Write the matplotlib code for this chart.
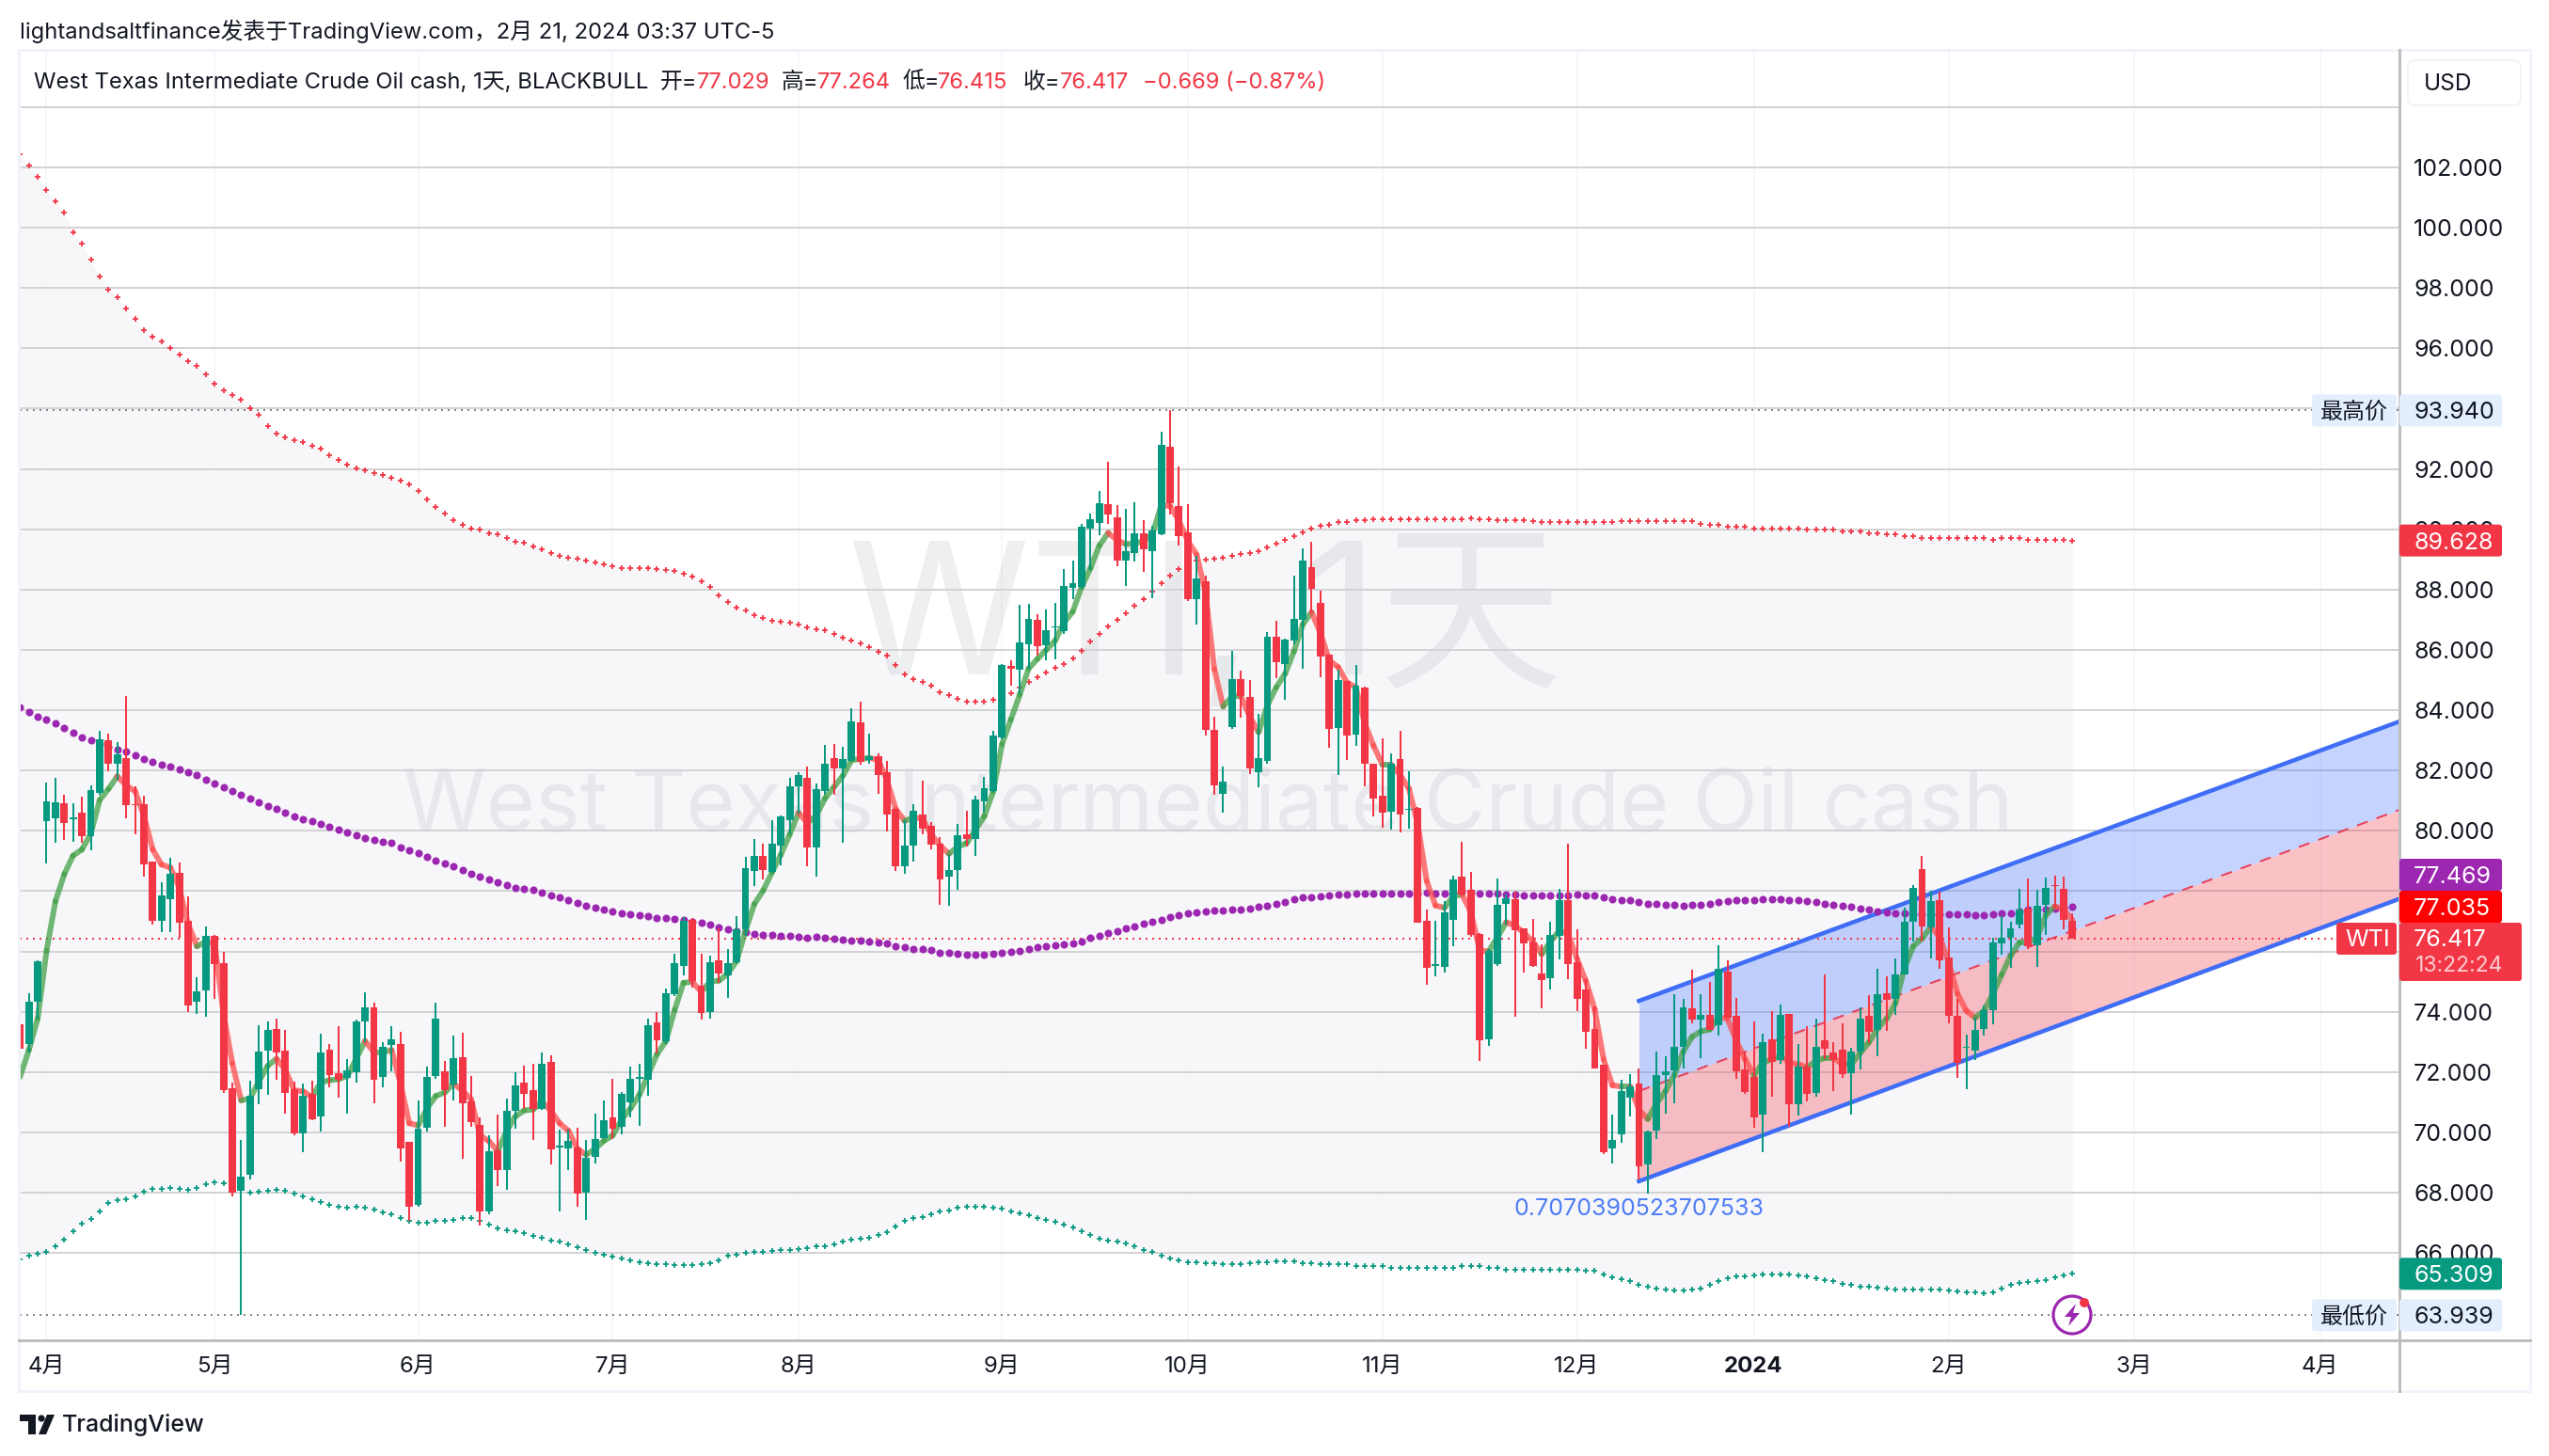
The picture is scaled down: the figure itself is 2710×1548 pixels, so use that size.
import numpy as np
import matplotlib
matplotlib.use('Agg')
import matplotlib.pyplot as plt
from matplotlib.patches import Rectangle, FancyBboxPatch, Circle, Polygon

plt.rcParams['font.family'] = ['Inter', 'Noto Sans CJK SC', 'DejaVu Sans']
plt.rcParams['axes.unicode_minus'] = False

# daily candles
opens = [73.60,72.93,74.33,80.32,80.42,80.91,80.39,80.60,79.82,81.27,
83.00,82.23,82.41,80.87,80.87,78.97,77.02,77.73,78.60,77.02,
74.33,74.71,76.51,75.62,71.47,68.05,68.59,71.42,72.71,73.42,
72.71,71.42,69.96,71.27,70.53,72.73,71.96,71.81,71.99,73.68,
74.14,71.84,72.90,72.93,69.68,67.59,70.15,71.87,72.02,71.59,
72.50,71.02,70.24,67.39,69.42,68.74,70.71,71.65,71.39,70.79,
72.33,69.50,69.48,69.50,68.00,69.20,69.81,70.50,70.17,70.99,
71.78,71.75,73.66,73.02,74.57,75.51,77.05,74.87,73.99,75.71,
75.20,75.63,76.72,78.66,79.17,78.63,79.51,80.35,81.47,81.75,
79.44,81.33,82.41,82.06,82.33,83.60,82.36,82.47,81.93,80.72,
78.84,79.51,80.53,80.17,79.57,78.48,78.70,79.88,79.73,80.97,
81.33,83.11,85.48,85.35,86.18,87.00,86.15,86.74,86.63,88.07,
88.10,90.01,90.22,90.83,90.40,88.97,89.22,89.88,89.28,89.85,
92.74,90.77,89.91,87.68,88.28,83.36,81.24,83.45,85.04,84.45,
81.95,82.33,86.42,85.53,86.31,87.00,88.74,87.56,85.85,83.42,
84.97,83.19,84.74,82.22,81.16,80.64,82.39,80.70,80.77,77.01,
75.53,75.50,77.04,78.49,78.04,76.58,73.09,75.58,77.59,77.73,
76.76,76.30,75.27,75.10,76.53,77.69,75.65,74.74,73.44,72.25,
69.48,69.92,71.16,71.62,68.94,70.07,71.90,72.07,72.84,74.13,
73.75,73.89,73.56,75.34,73.88,72.09,71.84,70.59,73.09,72.40,
73.92,70.94,72.19,71.31,73.06,72.66,72.75,71.97,72.69,73.88,
73.40,74.62,74.44,75.25,77.00,78.72,76.81,77.69,75.81,73.88,
72.79,72.72,73.44,74.06,76.28,76.44,76.88,77.43,76.19,77.56,
78.21,78.09,77.03]
highs = [74.35,74.60,75.72,81.59,81.75,81.20,80.91,81.14,81.51,83.33,
83.23,82.93,84.48,81.47,81.17,78.97,78.29,79.11,78.96,77.84,
75.15,76.82,76.54,75.99,71.66,69.75,71.72,73.56,73.68,73.76,
73.41,71.69,71.62,71.72,73.26,72.93,73.53,72.44,73.73,74.66,
74.29,73.00,73.51,73.33,69.68,71.05,72.17,74.30,72.36,73.21,
73.30,71.87,70.50,69.90,70.59,71.12,71.99,72.21,72.29,72.66,
72.57,70.09,70.08,70.15,69.75,70.62,71.05,71.76,71.35,72.17,
72.29,73.78,74.00,74.78,75.91,77.14,77.12,75.93,75.85,76.78,
76.08,77.18,79.14,79.74,79.56,80.36,80.51,81.75,81.94,82.12,
81.56,82.84,82.88,82.80,84.06,84.27,83.23,82.56,82.32,80.72,
80.36,80.88,81.65,80.29,79.80,79.21,80.24,80.66,81.15,81.80,
83.32,85.53,85.66,87.50,87.53,87.17,87.35,87.57,88.69,88.97,
90.18,90.53,91.28,92.25,90.79,90.68,90.91,90.31,90.13,93.24,
93.94,92.07,90.83,89.12,88.46,83.79,82.13,85.97,85.31,85.01,
83.89,86.58,86.97,86.37,88.46,89.37,89.59,87.97,85.85,85.33,
84.97,85.49,84.79,82.22,83.07,82.56,83.33,81.98,80.80,77.40,
77.03,77.67,78.52,79.64,78.64,76.62,76.07,78.42,77.89,77.97,
76.76,77.07,76.25,77.00,78.08,79.58,76.74,75.08,74.19,72.25,
70.60,71.74,71.93,72.12,70.07,72.68,72.52,74.58,74.43,75.38,
74.58,75.00,76.19,75.69,74.46,72.67,73.69,73.27,74.02,74.25,
73.94,72.94,73.53,73.77,75.25,73.00,73.63,72.81,74.15,74.56,
75.41,75.19,75.78,77.44,78.19,79.16,78.02,77.97,76.81,74.44,
73.25,73.81,74.22,76.46,77.16,77.00,78.09,78.41,78.03,78.44,
78.50,78.47,77.264]
lows = [72.78,72.66,73.78,78.93,79.60,79.71,79.63,79.60,79.36,81.21,
81.99,81.69,80.42,79.90,78.48,76.88,76.65,76.65,76.44,73.99,
73.93,73.82,74.42,71.32,67.87,63.94,68.44,70.93,71.24,71.73,
70.62,69.90,69.35,70.41,70.02,71.51,71.15,70.62,71.66,73.00,
70.97,71.51,72.02,69.03,67.06,67.54,70.02,71.76,70.20,71.05,
69.12,70.20,66.91,67.29,68.21,68.11,70.12,70.79,69.75,70.76,
68.93,67.39,68.74,67.54,67.11,68.97,69.78,69.78,69.94,70.50,
70.23,71.20,72.62,72.93,74.51,75.21,74.81,73.74,73.77,74.96,
74.47,75.60,76.53,78.17,78.39,78.61,78.87,79.91,80.56,78.84,
78.47,81.20,81.20,79.62,82.32,82.18,82.24,81.23,79.99,78.66,
78.59,78.99,79.88,79.39,77.54,77.50,78.06,79.47,79.17,80.60,
81.30,83.02,84.81,84.54,85.38,85.82,85.65,85.68,86.53,87.67,
88.04,88.64,89.80,90.19,88.77,88.13,88.94,88.59,87.71,89.79,
90.50,89.46,87.62,86.85,83.15,81.18,80.61,83.39,83.76,81.89,
81.43,82.22,85.06,84.36,86.18,85.36,87.25,85.10,82.74,81.85,
82.34,82.82,81.47,80.47,80.09,80.04,79.94,80.06,76.95,74.91,
75.16,75.31,76.18,77.86,76.47,72.37,72.88,75.53,76.88,73.82,
75.31,75.50,74.13,74.73,75.75,75.07,74.03,72.76,72.12,69.29,
68.98,69.66,70.54,68.44,67.96,69.79,70.62,70.98,72.12,73.63,
72.47,73.41,73.20,73.81,71.79,71.29,70.16,69.34,71.17,72.26,
70.20,70.57,71.03,71.19,72.44,71.38,71.81,70.60,72.09,72.97,
72.53,73.37,73.90,75.25,76.34,76.34,75.78,75.44,73.63,71.81,
71.44,72.41,73.22,73.59,75.88,75.47,76.78,76.09,75.50,76.56,
77.44,76.75,76.415]
closes = [72.78,74.33,75.68,80.97,80.94,80.26,80.45,79.82,81.35,83.03,
82.21,82.54,80.85,80.84,78.88,77.02,77.85,78.57,76.96,74.21,
74.68,76.51,75.59,71.39,67.99,68.53,71.21,72.68,73.39,72.65,
71.30,69.96,71.21,70.44,72.65,71.90,71.75,72.05,73.68,74.14,
71.73,72.84,73.08,69.47,67.54,70.12,71.84,73.76,71.39,72.45,
70.96,70.35,67.39,69.36,68.75,70.71,71.57,71.29,70.79,72.27,
69.45,69.56,69.71,67.97,69.15,69.78,70.39,70.11,71.27,71.76,
71.84,73.56,73.06,74.62,75.62,77.02,75.03,73.96,75.65,75.27,
75.62,76.72,78.77,79.17,78.69,79.57,80.47,81.48,81.85,79.44,
81.38,82.23,82.06,82.38,83.63,82.29,82.48,81.85,80.53,78.84,
79.51,80.66,80.08,79.53,78.39,78.70,79.85,79.73,81.03,81.41,
83.15,85.50,85.38,86.24,87.03,86.11,86.66,86.78,88.12,88.22,
90.09,90.33,90.88,90.49,88.97,89.28,89.88,89.34,89.95,92.80,
90.88,89.77,87.67,88.37,83.36,81.50,81.64,85.04,84.46,82.07,
82.42,86.45,85.58,86.34,87.03,88.97,88.03,85.79,83.39,85.01,
83.16,84.80,82.22,81.06,80.61,82.22,80.55,80.74,76.95,75.46,
75.58,77.30,78.39,77.89,76.55,73.04,76.03,77.55,77.77,76.70,
76.28,75.53,75.04,76.55,77.69,75.57,74.42,73.35,72.12,69.34,
69.75,71.38,71.54,68.88,70.03,71.91,72.02,72.84,74.16,73.75,
73.90,73.41,75.41,73.81,72.04,71.34,70.50,73.00,72.34,73.90,
70.94,72.19,71.28,72.84,72.78,72.39,71.94,72.69,73.78,73.33,
74.59,74.41,75.25,77.00,78.12,76.84,77.66,75.69,73.88,72.31,
72.83,73.41,74.06,76.31,76.46,76.78,77.38,76.16,77.50,78.12,
78.17,77.06,76.417]

# envelope, basis and fast average, one reading per bar
upper_band = [102.43,102.05,101.68,101.24,100.87,100.49,99.84,99.47,98.93,98.39,
97.96,97.69,97.31,96.99,96.61,96.39,96.23,96.02,95.80,95.58,
95.42,95.15,94.83,94.61,94.45,94.29,94.02,93.81,93.43,93.16,
93.05,92.94,92.89,92.78,92.67,92.46,92.30,92.13,92.03,91.97,
91.87,91.81,91.70,91.60,91.49,91.27,91.00,90.73,90.52,90.30,
90.14,90.03,89.98,89.87,89.82,89.71,89.60,89.55,89.44,89.33,
89.22,89.12,89.06,89.01,88.95,88.90,88.85,88.79,88.72,88.72,
88.72,88.71,88.68,88.65,88.62,88.54,88.44,88.27,88.09,87.81,
87.59,87.41,87.32,87.14,87.05,86.96,86.94,86.91,86.84,86.75,
86.68,86.66,86.53,86.41,86.32,86.21,86.09,85.93,85.81,85.50,
85.18,85.02,84.93,84.81,84.59,84.50,84.38,84.27,84.27,84.29,
84.36,84.48,84.57,84.74,84.93,85.09,85.25,85.40,85.53,85.73,
85.98,86.27,86.53,86.79,87.01,87.22,87.47,87.67,87.92,88.22,
88.45,88.67,88.86,88.97,89.00,89.03,89.07,89.12,89.18,89.22,
89.28,89.40,89.52,89.64,89.76,89.91,90.03,90.12,90.16,90.24,
90.25,90.31,90.31,90.33,90.33,90.33,90.33,90.34,90.33,90.33,
90.33,90.33,90.33,90.33,90.36,90.33,90.33,90.31,90.31,90.30,
90.30,90.28,90.25,90.25,90.25,90.25,90.25,90.25,90.24,90.25,
90.25,90.27,90.27,90.27,90.27,90.27,90.27,90.27,90.27,90.27,
90.19,90.14,90.14,90.09,90.09,90.09,90.03,90.03,90.03,90.03,
90.03,90.03,89.98,89.98,89.98,89.98,89.93,89.93,89.93,89.87,
89.87,89.82,89.82,89.76,89.76,89.71,89.71,89.71,89.71,89.71,
89.71,89.71,89.71,89.66,89.71,89.71,89.71,89.66,89.66,89.66,
89.66,89.66,89.63]
basis = [84.11,83.94,83.79,83.69,83.57,83.42,83.26,83.10,83.00,82.88,
82.79,82.69,82.62,82.51,82.38,82.29,82.20,82.14,82.05,81.94,
81.84,81.70,81.57,81.44,81.32,81.20,81.06,80.94,80.81,80.72,
80.60,80.48,80.39,80.32,80.23,80.12,80.03,79.94,79.84,79.76,
79.70,79.65,79.59,79.44,79.35,79.26,79.14,79.00,78.91,78.82,
78.70,78.59,78.48,78.39,78.30,78.20,78.12,78.08,78.03,77.96,
77.87,77.79,77.70,77.60,77.53,77.44,77.38,77.32,77.27,77.24,
77.20,77.17,77.12,77.11,77.08,77.05,76.99,76.96,76.88,76.81,
76.72,76.68,76.63,76.57,76.56,76.56,76.53,76.53,76.48,76.45,
76.47,76.45,76.42,76.38,76.35,76.36,76.32,76.30,76.27,76.17,
76.14,76.09,76.09,76.05,75.97,75.94,75.91,75.88,75.88,75.90,
75.93,75.96,75.99,76.02,76.08,76.14,76.17,76.21,76.23,76.26,
76.32,76.44,76.53,76.62,76.68,76.77,76.82,76.91,76.97,77.05,
77.14,77.21,77.27,77.30,77.33,77.35,77.36,77.38,77.39,77.42,
77.47,77.51,77.59,77.65,77.74,77.79,77.80,77.83,77.86,77.89,
77.89,77.92,77.92,77.92,77.92,77.92,77.92,77.92,77.92,77.94,
77.91,77.91,77.94,77.97,77.94,77.92,77.92,77.91,77.89,77.89,
77.86,77.86,77.85,77.85,77.86,77.86,77.89,77.85,77.85,77.80,
77.74,77.71,77.69,77.63,77.59,77.57,77.56,77.54,77.53,77.54,
77.56,77.59,77.63,77.66,77.69,77.69,77.70,77.72,77.72,77.72,
77.69,77.69,77.66,77.63,77.59,77.56,77.50,77.47,77.43,77.38,
77.34,77.31,77.28,77.25,77.23,77.22,77.22,77.22,77.22,77.22,
77.22,77.19,77.19,77.22,77.25,77.28,77.34,77.38,77.40,77.40,
77.42,77.44,77.469]
lower_band = [65.78,65.90,65.97,66.05,66.23,66.44,66.72,66.96,67.12,67.38,
67.65,67.75,67.78,67.88,68.03,68.12,68.14,68.15,68.12,68.09,
68.17,68.27,68.35,68.32,68.23,68.11,68.00,68.03,68.05,68.11,
68.06,67.96,67.88,67.78,67.68,67.60,67.54,67.50,67.53,67.50,
67.44,67.35,67.27,67.17,67.05,67.00,67.00,67.06,67.06,67.09,
67.17,67.15,67.06,66.94,66.81,66.76,66.72,66.66,66.56,66.50,
66.42,66.38,66.30,66.20,66.09,66.02,65.93,65.87,65.81,65.76,
65.69,65.67,65.62,65.62,65.60,65.60,65.60,65.62,65.66,65.77,
65.90,65.94,65.99,66.03,66.05,66.08,66.09,66.09,66.14,66.17,
66.21,66.23,66.30,66.38,66.45,66.48,66.51,66.59,66.69,66.88,
67.06,67.17,67.20,67.27,67.39,67.41,67.50,67.54,67.54,67.54,
67.50,67.48,67.38,67.33,67.24,67.17,67.11,67.03,66.93,66.85,
66.71,66.60,66.48,66.41,66.38,66.32,66.23,66.11,66.03,65.91,
65.82,65.75,65.70,65.68,65.66,65.65,65.63,65.62,65.62,65.65,
65.70,65.70,65.72,65.72,65.72,65.67,65.67,65.62,65.62,65.62,
65.62,65.56,65.56,65.56,65.56,65.51,65.51,65.51,65.51,65.51,
65.51,65.51,65.51,65.56,65.56,65.56,65.51,65.51,65.45,65.45,
65.45,65.45,65.45,65.45,65.45,65.45,65.45,65.42,65.40,65.29,
65.20,65.13,65.07,64.94,64.88,64.82,64.78,64.75,64.75,64.80,
64.82,64.94,65.07,65.15,65.22,65.22,65.25,65.30,65.30,65.30,
65.29,65.25,65.22,65.17,65.09,65.07,64.99,64.94,64.89,64.88,
64.84,64.81,64.79,64.79,64.79,64.79,64.79,64.79,64.76,64.73,
64.70,64.68,64.67,64.71,64.81,64.94,65.00,65.03,65.07,65.10,
65.19,65.27,65.309]
fast_ma = [71.84,72.73,73.78,76.02,77.66,78.56,79.18,79.38,79.90,81.02,
81.39,81.81,81.50,81.32,80.50,79.38,78.88,78.78,78.11,76.91,
76.17,76.32,76.27,73.93,72.29,71.06,71.12,71.69,72.21,72.44,
72.06,71.39,71.36,71.17,71.66,71.73,71.76,71.87,72.44,73.03,
72.66,72.66,72.73,71.62,70.30,70.23,70.79,71.21,71.32,71.62,
71.39,71.09,69.90,69.71,69.38,70.05,70.53,70.73,70.76,71.02,
70.72,70.30,70.05,69.45,69.26,69.45,69.72,69.90,70.42,70.79,
71.24,71.91,72.59,73.02,74.06,74.96,74.99,74.66,74.99,75.03,
75.26,75.68,76.68,77.57,78.02,78.62,79.21,79.88,80.60,80.26,
80.51,81.08,81.45,81.82,82.35,82.38,82.42,82.35,81.68,80.71,
80.33,80.44,80.41,79.88,79.51,79.24,79.47,79.59,80.03,80.48,
81.30,82.87,83.69,84.51,85.38,85.70,86.00,86.30,86.90,87.27,
88.09,88.71,89.46,89.88,89.64,89.51,89.53,89.61,89.83,90.80,
90.77,90.28,89.61,89.16,87.89,85.36,84.12,84.46,84.46,83.79,
83.27,84.16,84.76,85.21,85.95,86.85,87.25,86.55,85.65,85.43,
84.91,84.76,83.56,82.82,82.19,82.19,81.85,81.40,80.21,78.34,
77.52,77.45,77.82,77.89,77.30,76.03,76.00,76.47,76.97,76.85,
76.62,76.33,75.91,76.33,76.69,76.58,75.75,75.02,74.08,72.42,
71.56,71.52,71.52,70.75,70.44,70.96,71.37,71.90,72.68,73.17,
73.35,73.41,73.82,73.77,73.04,72.42,71.90,72.31,72.42,72.52,
72.31,72.26,72.16,72.36,72.47,72.47,72.26,72.26,72.63,72.99,
73.46,73.77,74.29,75.44,76.17,76.43,76.81,76.48,75.65,74.60,
74.03,73.80,74.03,74.60,75.23,75.85,76.30,76.30,76.46,77.21,
77.50,77.40,77.035]

# regression channel
channel_x = [183, 269]
channel_upper = [74.36, 83.63]
channel_mid = [71.37, 80.70]
channel_lower = [68.38, 77.75]
channel_label = '0.7070390523707533'

price_ticks = [66,68,70,72,74,76,78,80,82,84,86,88,90,92,96,98,100,102,104]
month_pos = [3,22,45,67,88,111,132,154,176,196,218,239,260]
month_labels = ['4月','5月','6月','7月','8月','9月','10月','11月','12月','2024','2月','3月','4月']
high_price = 93.940
low_price = 63.939
last_close = 76.417

for s in (opens, highs, lows, closes, upper_band, basis, lower_band, fast_ma):
    assert len(s) == 233, len(s)

RED = '#f23645'
GREEN = '#089981'
PURPLE = '#9c27b0'
INK = '#131722'
W, H = 2710, 1548

def fs(px):
    return px * 0.72

def py(price):
    return 178 + (102 - price) * 32.06

fig = plt.figure(figsize=(W / 100, H / 100), dpi=100, facecolor='white')
ax = fig.add_axes([21 / W, 1 - 1425 / H, (2551 - 21) / W, (1425 - 53) / H])
ax.set_xlim(-0.03, 268.96)
ax.set_ylim(102 - (1425 - 178) / 32.06, 102 + (178 - 53) / 32.06)
for s in ax.spines.values():
    s.set_visible(False)
ax.set_xticks([])
ax.set_yticks([])

x = np.arange(len(closes))
ax.fill_between(x, lower_band, upper_band, color='#f7f7fa', lw=0, zorder=1)

for m in month_pos:
    ax.axvline(m, color='#f5f5f7', lw=fs(1.5), zorder=1.2)
for p in price_ticks + [94]:
    ax.axhline(p, color='#d3d3d6', lw=fs(2), zorder=1.6)

# watermarks
ax.text(134, 86.8, 'WTI, 1天', ha='center', va='center', fontsize=fs(196), color='#2a2e39',
        alpha=0.075, zorder=1.4)
ax.text(134.3, 80.75, 'West Texas Intermediate Crude Oil cash', ha='center', va='center',
        fontsize=fs(90), color='#2a2e39', alpha=0.075, zorder=1.4)

# channel
ax.fill_between(channel_x, channel_mid, channel_upper, color='#2962ff', alpha=0.27, lw=0, zorder=2)
ax.fill_between(channel_x, channel_lower, channel_mid, color='#f23645', alpha=0.30, lw=0, zorder=2)
ax.plot(channel_x, channel_upper, color='#3f6df5', lw=fs(4.5), zorder=3)
ax.plot(channel_x, channel_lower, color='#3f6df5', lw=fs(4.5), zorder=3)
ax.plot(channel_x, channel_mid, color='#ea3f58', lw=fs(2), ls=(0, (6, 5)), zorder=3)
ax.text(183, 67.44, channel_label, ha='center', va='center', fontsize=fs(25), color='#4d7df5', zorder=6)

# level lines
ax.axhline(high_price, color='#85858a', lw=fs(2), ls=(0, (1, 2.5)), zorder=2.5)
ax.axhline(low_price, color='#85858a', lw=fs(2), ls=(0, (1, 2.5)), zorder=2.5)
ax.plot([0, 263], [last_close, last_close], color=RED, lw=fs(2), ls=(0, (1, 2.5)), zorder=2.5)

# bands
ax.scatter(x, basis, s=34, color=PURPLE, lw=0, zorder=3.2)
ax.plot(x, upper_band, ls='', marker='+', ms=fs(6.5), mew=fs(1.8), color=RED, zorder=3.2)
ax.plot(x, lower_band, ls='', marker='+', ms=fs(6.5), mew=fs(1.8), color=GREEN, zorder=3.2)

# fast average coloured by direction
for i in range(1, len(fast_ma)):
    up = fast_ma[i] >= fast_ma[i - 1]
    ax.plot([i - 1, i], [fast_ma[i - 1], fast_ma[i]], color='#43a047' if up else '#ff4d4d',
            lw=fs(6), alpha=0.75, solid_capstyle='round', zorder=3.5)

# candles
colors = [GREEN if c >= o else RED for o, c in zip(opens, closes)]
ax.vlines(x, lows, highs, colors=colors, lw=fs(2), zorder=4)
bottoms = np.minimum(opens, closes)
heights = np.abs(np.array(closes) - np.array(opens))
ax.bar(x, heights, bottom=bottoms, width=0.84, color=colors, lw=0, zorder=4.1)

# pixel overlay for the chart furniture
ov = fig.add_axes([0, 0, 1, 1], facecolor='none')
ov.set_xlim(0, W)
ov.set_ylim(H, 0)
ov.axis('off')

ov.text(21, 33, 'lightandsaltfinance发表于TradingView.com，2月 21, 2024 03:37 UTC-5',
        fontsize=fs(23.8), color=INK, va='center')

ov.add_patch(Rectangle((20, 53), 2670, 1426, fc='none', ec='#f0f3fa', lw=fs(3)))
ov.plot([2551, 2551], [53, 1479], color='#bdbdbd', lw=fs(3))
ov.plot([20, 2690], [1425, 1425], color='#bdbdbd', lw=fs(3))

# legend line
LEG_Y = 88
ov.text(36, LEG_Y, 'West Texas Intermediate Crude Oil cash, 1天, BLACKBULL', fontsize=fs(23.8),
        color=INK, va='center')
legend_bits = [('开=', 702, INK), ('77.029', 741, RED), ('高=', 831, INK), ('77.264', 869, RED),
               ('低=', 959, INK), ('76.415', 997, RED), ('收=', 1088, INK), ('76.417', 1127, RED),
               ('−0.669 (−0.87%)', 1215, RED)]
for txt, tx, col in legend_bits:
    ov.text(tx, LEG_Y, txt, fontsize=fs(23.8), color=col, va='center')

# price scale
scale_ticks = [66,68,70,72,74,80,82,84,86,88,90,92,96,98,100,102,104]
for p in scale_ticks:
    ov.text(2566, py(p) + 2.5, '%.3f' % p, fontsize=fs(25), color=INK, va='center')
# the currency button hides nearly all of the top tick label
ov.add_patch(Rectangle((2553, 55), 136, 69, fc='white', ec='none', zorder=3))
ov.add_patch(FancyBboxPatch((2560, 64), 120, 48, boxstyle='round,pad=0,rounding_size=8',
                            fc='white', ec='#f0f3fa', lw=fs(2), zorder=3.1))
ov.text(2577, 90, 'USD', fontsize=fs(24.5), color=INK, va='center', zorder=3.2)

def tag(x0, x1, y0, y1, col, zorder=4):
    ov.add_patch(FancyBboxPatch((x0, y0), x1 - x0, y1 - y0, boxstyle='round,pad=0,rounding_size=3',
                                fc=col, ec='none', zorder=zorder))

def value_tag(price, yc, col, txtcol='white'):
    tag(2551, 2660, yc - 17, yc + 17, col)
    ov.text(2566, yc + 2.5, '%.3f' % price, fontsize=fs(25), color=txtcol, va='center', zorder=5)

# the tags near the last price are pushed apart by the scale
value_tag(89.628, py(89.628), RED)
value_tag(77.469, 930, PURPLE)
value_tag(77.035, 964, '#ff0000')
value_tag(65.309, py(65.309), GREEN)
value_tag(high_price, py(high_price), '#e3effd', INK)
value_tag(low_price, py(low_price), '#e3effd', INK)

for price, name in ((high_price, '最高价'), (low_price, '最低价')):
    tag(2458, 2548, py(price) - 17, py(price) + 17, '#e3effd')
    ov.text(2503, py(price) + 2, name, fontsize=fs(24), color=INK, ha='center', va='center', zorder=5)

tag(2551, 2681, 981, 1043, RED)
ov.text(2566, 1000, '%.3f' % last_close, fontsize=fs(25), color='white', va='center', zorder=5)
ov.text(2568, 1027, '13:22:24', fontsize=fs(23), color='white', alpha=0.75, va='center', zorder=5)
tag(2484, 2548, 981, 1015, RED)
ov.text(2517, 1000, 'WTI', fontsize=fs(25), color='white', ha='center', va='center', zorder=5)

# time scale
for m, lab in zip(month_pos, month_labels):
    bold = lab == '2024'
    ov.text(21 + m * 9.405, 1453, lab, fontsize=fs(24), color=INK, ha='center', va='center',
            fontweight='bold' if bold else 'normal')

# flash icon on the low line
ov.add_patch(Circle((2203, 1398), 20, fc='white', ec=PURPLE, lw=fs(3.2), zorder=5))
ov.add_patch(Polygon([(2207, 1386), (2195, 1400), (2202, 1400), (2199, 1410), (2211, 1396), (2204, 1396)],
                     fc=PURPLE, ec='none', zorder=5.1))
ov.add_patch(Circle((2216, 1385), 5, fc=RED, ec='none', zorder=5.2))

# logo
ov.add_patch(Polygon([(21, 1504), (38, 1504), (38, 1525), (30, 1525), (30, 1511), (21, 1511)], fc=INK, ec='none'))
ov.add_patch(Circle((44, 1508), 3.6, fc=INK, ec='none'))
ov.add_patch(Polygon([(50, 1504), (58, 1504), (49, 1525), (41, 1525)], fc=INK, ec='none'))
ov.text(66, 1515, 'TradingView', fontsize=fs(25), color=INK, va='center', fontweight='medium')

fig.savefig('out.png', dpi=100)
